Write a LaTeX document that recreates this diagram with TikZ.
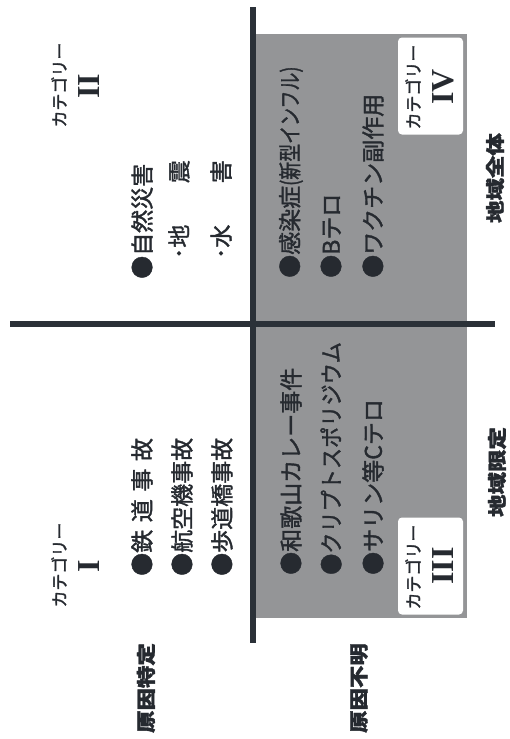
\documentclass[tikz,border=0pt]{standalone}
\usepackage{fontspec}
\usepackage{graphicx}
\setmainfont{Liberation Serif}
\newfontfamily\cjk{Noto Sans CJK JP}[FakeBold=1.6]
\definecolor{axiscol}{RGB}{43,49,56}
\definecolor{shadegray}{RGB}{148,149,151}
\definecolor{ink}{RGB}{38,42,48}
\begin{document}
\begin{tikzpicture}[x=1pt,y=-1pt,
  vt/.style={rotate=90,inner sep=0pt,text=ink},
  item/.style={vt,anchor=west,font=\cjk\fontsize{23}{23}\selectfont},
  cat/.style={vt,font=\cjk\fontsize{17}{17}\selectfont},
  num/.style={vt,font=\fontsize{32}{32}\selectfont\bfseries},
  lab/.style={vt,font=\cjk\fontsize{19}{19}\selectfont\bfseries},
  catbox/.style={fill=white,rounded corners=4pt,inner sep=0pt,minimum width=65pt,minimum height=97pt},
  axisline/.style={draw=axiscol,line width=5.5pt}]
\useasboundingbox (0,0) rectangle (509,739);
% shaded region
\fill[shadegray] (253,34) rectangle (467,618);
% category boxes
\node[catbox] (boxIV) at (430.5,86) {};
\node[catbox] (boxIII) at (430.5,566) {};
% axes
\coordinate (vtop) at (253,7);
\coordinate (vbot) at (253,643);
\coordinate (hleft) at (10,324);
\coordinate (hright) at (495,324);
\draw[axisline] (vtop) -- (vbot);
\draw[axisline] (hleft) -- (hright);
% category labels
\node[cat] (c2) at (59,85) {カテゴリー};
\node[num] (n2) at (89,86) {II};
\node[cat] (c1) at (59,565) {カテゴリー};
\node[num] (n1) at (89,566) {I};
\node[cat] (c4) at (413,87) {カテゴリー};
\node[num] (n4) at (443,87) {IV};
\node[cat] (c3) at (413,567) {カテゴリー};
\node[num] (n3) at (443,566) {III};
% items: category II
\node[item] (a1) at (142,279) {●自然災害};
\node[item,anchor=east] (a2) at (179,160) {･地\hspace{1.8em}震};
\node[item,anchor=east] (a3) at (221,160) {･水\hspace{1.8em}害};
% items: category IV
\node[item] (b1) at (291,278) {●感染症\scalebox{0.78}[1]{(新型インフル)}};
\node[item] (b2) at (331,278) {●Bテロ};
\node[item] (b3) at (373,278) {●ワクチン副作用};
% items: category I
\node[item] (d1) at (142,576) {●鉄\hspace{0.33em}道\hspace{0.33em}事\hspace{0.33em}故};
\node[item] (d2) at (182,576) {●航空機事故};
\node[item] (d3) at (222,576) {●歩道橋事故};
% items: category III
\node[item] (e1) at (291,575) {●和歌山カレー事件};
\node[item] (e2) at (331,575) {\scalebox{0.92}[1]{●クリプトスポリジウム}};
\node[item] (e3) at (373,575) {●サリン等Cテロ};
% axis labels
\node[lab] (l1) at (495,178) {\scalebox{1.18}[1]{地域全体}};
\node[lab] (l2) at (497,472) {\scalebox{1.18}[1]{地域限定}};
\node[lab] (l3) at (146,688) {\scalebox{1.18}[1]{原因特定}};
\node[lab] (l4) at (359,688) {\scalebox{1.18}[1]{原因不明}};
\end{tikzpicture}
\end{document}
